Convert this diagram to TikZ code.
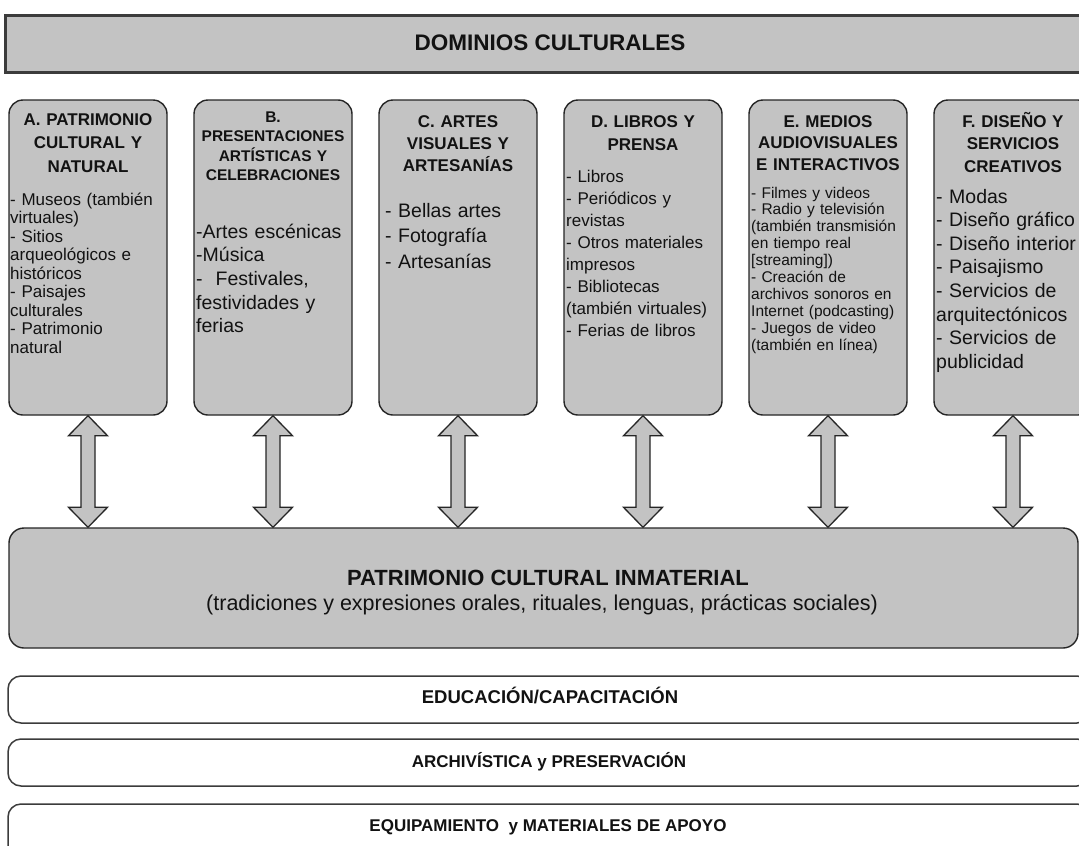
\documentclass[tikz,border=0pt]{standalone}
\usepackage{fontspec}
\setmainfont{Liberation Sans}
\usetikzlibrary{calc}

\definecolor{panelgray}{RGB}{195,195,195}
\definecolor{edgegray}{RGB}{38,38,38}
\definecolor{framegray}{RGB}{60,60,60}
\definecolor{inkblack}{RGB}{18,18,18}

% Double-headed block arrow between the bottom of a domain box and the base panel
\newcommand\dualarrow[2]{%
  \draw[linkarrow] let \p1=(#1.south), \p2=(#2.north -| #1.south) in
    (\x1,\y1) -- (\x1+19.5pt,\y1-20pt) -- (\x1+7pt,\y1-20pt)
    -- (\x1+7pt,\y2+20pt) -- (\x1+19.5pt,\y2+20pt) -- (\x2,\y2)
    -- (\x1-19.5pt,\y2+20pt) -- (\x1-7pt,\y2+20pt)
    -- (\x1-7pt,\y1-20pt) -- (\x1-19.5pt,\y1-20pt) -- cycle;}

\begin{document}
\begin{tikzpicture}[x=1pt,y=-1pt,
  domainbox/.style={draw=edgegray, line width=1.4pt, fill=panelgray,
    rounded corners=14pt, minimum width=158pt, minimum height=315pt, inner sep=0pt},
  headtext/.style={text width=158pt, align=center, anchor=base, inner sep=0pt, text=inkblack},
  itemtext/.style={text width=190pt, align=left, anchor=base west, inner sep=0pt, text=inkblack},
  linkarrow/.style={draw=edgegray, line width=1.3pt, fill=panelgray, line join=miter},
  bandbox/.style={draw=framegray, line width=1.5pt, fill=white, rounded corners=13pt,
    minimum width=1082pt, inner sep=0pt},
  bandtext/.style={anchor=base, inner sep=0pt, text=inkblack},
]
\useasboundingbox (0,0) rectangle (1079,846);
\clip (0,0) rectangle (1079,846);
\fill[white] (0,0) rectangle (1079,846);

% Title bar
\node[draw=framegray, line width=3pt, fill=panelgray, minimum width=1092pt,
  minimum height=57pt, inner sep=0pt, anchor=north west] (dom) at (4,14) {};
\node[bandtext, font=\fontsize{22.5}{27}\selectfont\bfseries] (domtxt) at (550,50) {DOMINIOS CULTURALES};

% Domain boxes
\node[domainbox] (A) at (88,257.5) {};
\node[domainbox] (B) at (273,257.5) {};
\node[domainbox] (C) at (458,257.5) {};
\node[domainbox] (D) at (643,257.5) {};
\node[domainbox] (E) at (828,257.5) {};
\node[domainbox] (F) at (1013,257.5) {};

% Box headings
\node[headtext, font=\fontsize{17}{23.5}\selectfont\bfseries] (Ah) at (88,125)
  {A. PATRIMONIO\\CULTURAL Y\\NATURAL};
\node[headtext, font=\fontsize{15.5}{19.6}\selectfont\bfseries] (Bh) at (273,122)
  {B.\\PRESENTACIONES\\ARTÍSTICAS Y\\CELEBRACIONES};
\node[headtext, font=\fontsize{17}{22}\selectfont\bfseries] (Ch) at (458,127)
  {C. ARTES\\VISUALES Y\\ARTESANÍAS};
\node[headtext, font=\fontsize{17}{23}\selectfont\bfseries] (Dh) at (643,127)
  {D. LIBROS Y\\PRENSA};
\node[headtext, font=\fontsize{17}{21.5}\selectfont\bfseries] (Eh) at (828,127)
  {E. MEDIOS\\AUDIOVISUALES\\E INTERACTIVOS};
\node[headtext, font=\fontsize{17}{22.5}\selectfont\bfseries] (Fh) at (1013,127)
  {F. DISEÑO Y\\SERVICIOS\\CREATIVOS};

% Box contents
\node[itemtext, font=\fontsize{17}{18.5}\selectfont] (Ai) at (10,205)
  {- Museos (también\\virtuales)\\- Sitios\\arqueológicos e\\históricos\\- Paisajes\\culturales\\- Patrimonio\\natural};
\node[itemtext, font=\fontsize{19.5}{23.7}\selectfont] (Bi) at (196,238)
  {-Artes escénicas\\-Música\\- \ Festivales,\\festividades y\\ferias};
\node[itemtext, font=\fontsize{19.5}{25.5}\selectfont] (Ci) at (385,217)
  {- Bellas artes\\- Fotografía\\- Artesanías};
\node[itemtext, font=\fontsize{17}{22}\selectfont] (Di) at (566,182)
  {- Libros\\- Periódicos y\\revistas\\- Otros materiales\\impresos\\- Bibliotecas\\(también virtuales)\\- Ferias de libros};
\node[itemtext, font=\fontsize{15.5}{16.9}\selectfont] (Ei) at (751,198)
  {- Filmes y videos\\- Radio y televisión\\(también transmisión\\en tiempo real\\{[}streaming{]})\\- Creación de\\archivos sonoros en\\Internet (podcasting)\\- Juegos de video\\(también en línea)};
\node[itemtext, font=\fontsize{19.5}{23.6}\selectfont] (Fi) at (936,203)
  {- Modas\\- Diseño gráfico\\- Diseño interior\\- Paisajismo\\- Servicios de\\arquitectónicos\\- Servicios de\\publicidad};

% Intangible heritage panel
\node[draw=edgegray, line width=1.4pt, fill=panelgray, rounded corners=15pt,
  minimum width=1069pt, minimum height=120pt, inner sep=0pt] (pci) at (543.5,588) {};
\node[bandtext, font=\fontsize{22}{26}\selectfont\bfseries] (pcititle) at (548,585)
  {PATRIMONIO CULTURAL INMATERIAL};
\node[bandtext, font=\fontsize{21.5}{26}\selectfont] (pcisub) at (542,610)
  {(tradiciones y expresiones orales, rituales, lenguas, prácticas sociales)};

% Links between domains and the base panel
\dualarrow{A}{pci}
\dualarrow{B}{pci}
\dualarrow{C}{pci}
\dualarrow{D}{pci}
\dualarrow{E}{pci}
\dualarrow{F}{pci}

% Transversal bands
\node[bandbox, minimum height=47pt] (edu) at (549,699.5) {};
\node[bandbox, minimum height=47pt] (arch) at (549,762.5) {};
\node[bandbox, minimum height=80pt] (equip) at (549,844) {};
\node[bandtext, font=\fontsize{18.5}{22}\selectfont\bfseries] (edutxt) at (550,703)
  {EDUCACIÓN/CAPACITACIÓN};
\node[bandtext, font=\fontsize{17}{20}\selectfont\bfseries] (archtxt) at (549,767)
  {ARCHIVÍSTICA y PRESERVACIÓN};
\node[bandtext, font=\fontsize{17}{20}\selectfont\bfseries] (equiptxt) at (548,831)
  {EQUIPAMIENTO~ y MATERIALES DE APOYO};
\end{tikzpicture}
\end{document}
